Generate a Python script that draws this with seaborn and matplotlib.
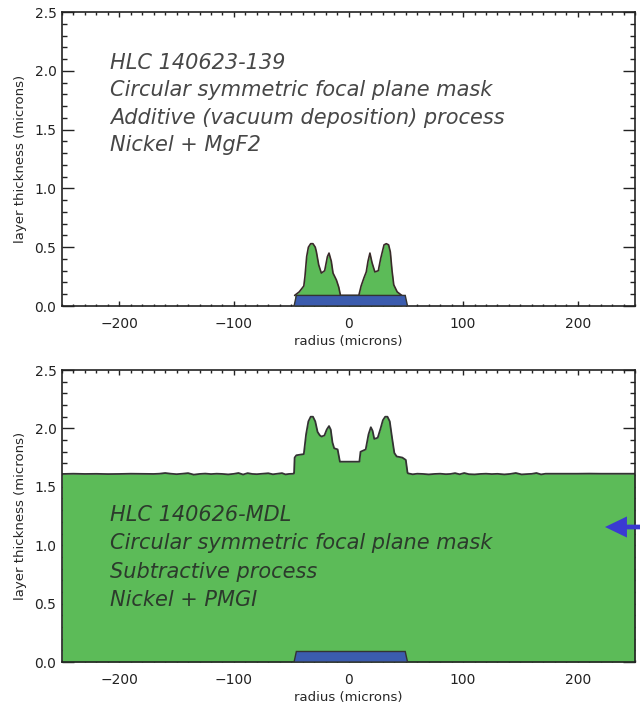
import numpy as np
import pandas as pd
import matplotlib
matplotlib.use("Agg")
import matplotlib.pyplot as plt
import seaborn as sns
from matplotlib.ticker import MultipleLocator

# ---------------- data ----------------
# top panel: total layer thickness profile (Nickel + MgF2), microns
top_x = [-47, -43, -39, -38, -36.5, -35, -33, -31, -29, -28, -26, -23.7, -20.8, -18.4, -17,
         -15, -13.5, -10.5, -8.5, -7, 9, 11, 13.5, 15.5, 17, 18.7, 20.5, 23, 26,
         28, 29.5, 31, 33, 35, 36.5, 38, 39.5, 42.5, 46.5]
top_y = [0.09, 0.12, 0.17, 0.25, 0.42, 0.50, 0.53, 0.53, 0.50, 0.46, 0.35, 0.28, 0.30, 0.42, 0.45,
         0.38, 0.28, 0.22, 0.16, 0.09, 0.09, 0.17, 0.24, 0.29, 0.38, 0.45, 0.37, 0.29, 0.30,
         0.40, 0.46, 0.52, 0.53, 0.52, 0.46, 0.30, 0.18, 0.12, 0.09]

# bottom panel: PMGI layer top surface, microns
bot_left_x = [-250, -240, -230, -220, -210, -200, -190, -180, -170, -165, -160, -155, -150,
              -145, -140, -135, -130, -125, -120, -115, -110, -105, -100, -96, -92, -88,
              -84, -80, -75, -70, -66, -62, -58, -55, -52, -48]
bot_left_y = [1.610, 1.612, 1.610, 1.611, 1.609, 1.610, 1.612, 1.611, 1.610, 1.612, 1.618,
              1.612, 1.608, 1.612, 1.617, 1.604, 1.610, 1.613, 1.609, 1.612, 1.610, 1.606,
              1.611, 1.618, 1.605, 1.617, 1.610, 1.608, 1.612, 1.616, 1.607, 1.612, 1.617,
              1.606, 1.610, 1.612]
bot_core_x = [-47.5, -47, -45.5, -39, -37, -35, -33, -31, -29, -27, -25, -23.5, -21, -19,
              -17, -15.5, -14, -12.5, -9.5, -7.5, 9.5, 10.5, 15, 17.5, 19.5, 21, 22.5, 25.5,
              28, 30, 32, 34, 36, 38, 40, 42, 47, 50, 51.5]
bot_core_y = [1.615, 1.75, 1.77, 1.78, 1.95, 2.06, 2.10, 2.10, 2.06, 1.97, 1.94, 1.93, 1.94,
              1.99, 2.02, 1.99, 1.88, 1.83, 1.82, 1.715, 1.715, 1.80, 1.82, 1.95, 2.01, 1.98,
              1.91, 1.92, 2.00, 2.07, 2.10, 2.10, 2.06, 1.92, 1.79, 1.76, 1.75, 1.73, 1.62]
bot_right_x = [52, 56, 60, 65, 70, 75, 80, 85, 89, 93, 97, 101, 105, 110, 115, 120, 125, 130,
               136, 141, 146, 151, 156, 160, 164, 168, 172, 180, 190, 200, 210, 220, 230,
               240, 250]
bot_right_y = [1.615, 1.607, 1.612, 1.610, 1.606, 1.610, 1.612, 1.608, 1.610, 1.617, 1.607,
               1.618, 1.608, 1.606, 1.610, 1.612, 1.609, 1.611, 1.606, 1.610, 1.618, 1.606,
               1.609, 1.611, 1.618, 1.606, 1.612, 1.612, 1.612, 1.612, 1.613, 1.612, 1.612,
               1.612, 1.612]

# nickel layer (trapezoid)
ni_x = [-47.5, -45.5, 49.5, 51.5]
ni_y = [0.0, 0.09, 0.09, 0.0]

top_text = ["HLC 140623-139", "Circular symmetric focal plane mask",
            "Additive (vacuum deposition) process", "Nickel + MgF2"]
bot_text = ["HLC 140626-MDL", "Circular symmetric focal plane mask",
            "Subtractive process", "Nickel + PMGI"]

x_ticks = [-200, -100, 0, 100, 200]
y_ticks = [0.0, 0.5, 1.0, 1.5, 2.0, 2.5]

# ---------------- style ----------------
GREEN = "#5cbb58"
BLUE = "#3b5cae"
EDGE = "#333333"
TEXTC = "#474747"

sns.set_style("ticks")
plt.rcParams["font.family"] = ["DejaVu Sans"]

fig = plt.figure(figsize=(6.4, 7.06), dpi=100)
ax_top = fig.add_axes([62 / 640, 400 / 706, 573 / 640, 294 / 706])
ax_bot = fig.add_axes([62 / 640, 44 / 706, 573 / 640, 292 / 706])

top_df = pd.DataFrame({"radius": top_x, "thickness": top_y})
bot_df = pd.DataFrame({"radius": bot_left_x + bot_core_x + bot_right_x,
                       "thickness": bot_left_y + bot_core_y + bot_right_y})

# top panel
ax_top.fill_between(top_df["radius"], 0, top_df["thickness"], color=GREEN, lw=0, zorder=1)
sns.lineplot(data=top_df, x="radius", y="thickness", ax=ax_top, color="#3a2a2a",
             lw=1.2, sort=False, estimator=None, zorder=2)
ax_top.fill(ni_x, ni_y, facecolor=BLUE, edgecolor=EDGE, lw=1.0, zorder=3)

# bottom panel
ax_bot.fill_between(bot_df["radius"], 0, bot_df["thickness"], color=GREEN, lw=0, zorder=1)
sns.lineplot(data=bot_df, x="radius", y="thickness", ax=ax_bot, color=EDGE,
             lw=1.3, sort=False, estimator=None, zorder=2)
ax_bot.fill(ni_x, ni_y, facecolor=BLUE, edgecolor=EDGE, lw=1.0, zorder=3)

for ax in (ax_top, ax_bot):
    ax.set_xlim(-250, 250)
    ax.set_ylim(0, 2.5)
    ax.set_xticks(x_ticks)
    ax.set_xticklabels([str(v).replace("-", "\u2212") for v in x_ticks])
    ax.set_yticks(y_ticks)
    ax.set_yticklabels([f"{v:.1f}" for v in y_ticks])
    ax.xaxis.set_minor_locator(MultipleLocator(10))
    ax.yaxis.set_minor_locator(MultipleLocator(0.1))
    ax.tick_params(which="both", direction="in", top=True, right=True,
                   labelsize=10, colors="#222222", width=1.0)
    ax.tick_params(axis="y", which="major", length=8.3, pad=4)
    ax.tick_params(axis="y", which="minor", length=3.8)
    ax.tick_params(axis="x", which="major", length=3.4, pad=8)
    ax.tick_params(axis="x", which="minor", length=1.8)
    for s in ax.spines.values():
        s.set_visible(True)
        s.set_linewidth(1.2)
        s.set_color("#222222")
    ax.set_xlabel("radius (microns)", fontsize=9.5, labelpad=2.5)
    ax.set_ylabel("layer thickness (microns)", fontsize=9.5, labelpad=5)
    ax.set_facecolor("white")

# annotation text blocks
TFAM = ["DejaVu Sans"]
for i, line in enumerate(top_text):
    fig.text(110 / 640, 1 - (63 + 27.4 * i) / 706, line, family=TFAM,
             style="italic", fontsize=15, color=TEXTC, va="center", ha="left")
for i, line in enumerate(bot_text):
    fig.text(110 / 640, 1 - (515 + 28.3 * i) / 706, line, family=TFAM,
             style="italic", fontsize=15, color="#2c3a2c", va="center", ha="left")

# blue arrow at right edge
ax_bot.annotate("", xy=(605 / 640, 1 - 527 / 706), xycoords="figure fraction",
                xytext=(1.02, 1 - 527 / 706), textcoords="figure fraction",
                arrowprops=dict(arrowstyle="simple,head_length=0.79,head_width=0.76,tail_width=0.17",
                                color="#3a3ad2", lw=0, mutation_scale=20,
                                shrinkA=0, shrinkB=0),
                annotation_clip=False)

fig.savefig("out.png", dpi=100)
